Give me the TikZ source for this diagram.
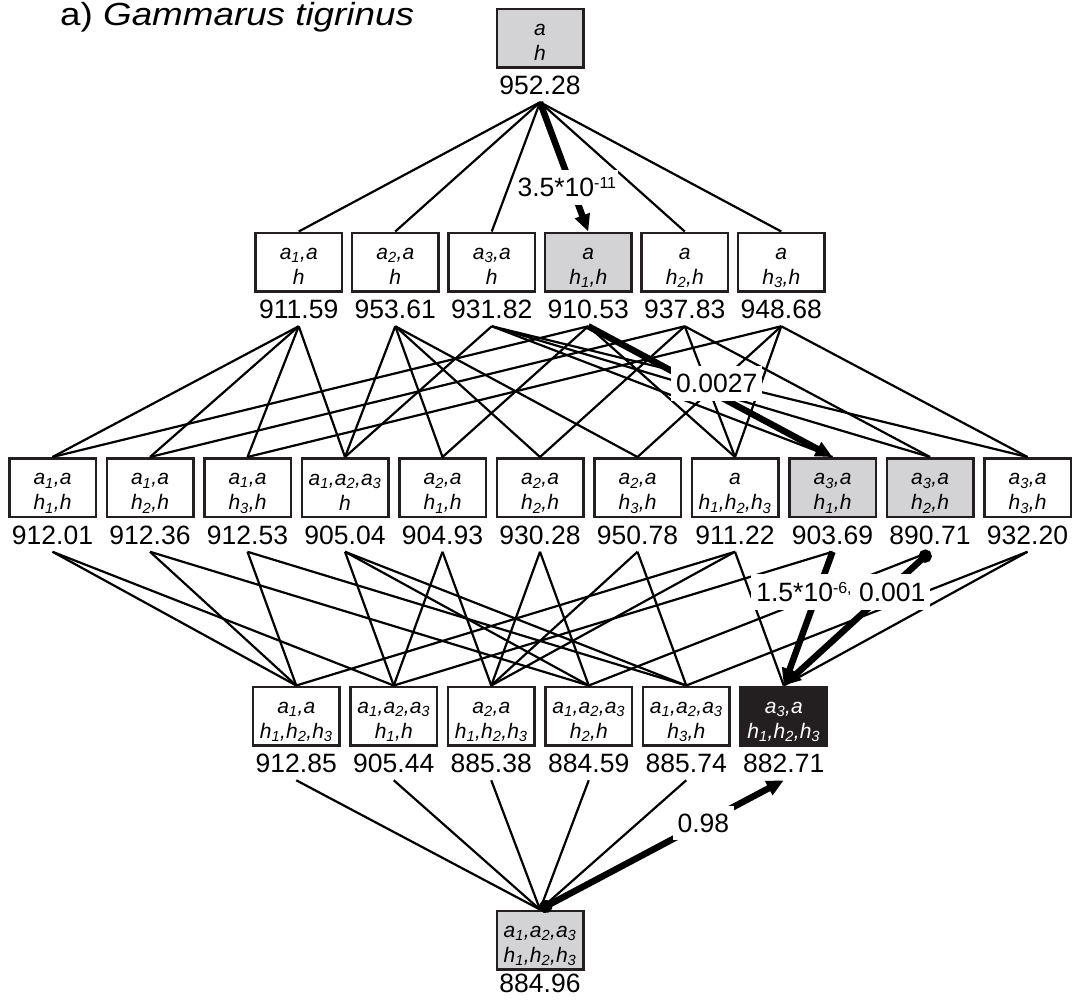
\documentclass[tikz,border=0pt]{standalone}
\usepackage{fontspec}
\setmainfont{Liberation Sans}
\newfontfamily\titlefont[FakeStretch=1.15]{Liberation Sans}
\usepackage{xcolor}
\usepackage{tikz}
\usetikzlibrary{positioning}
\usetikzlibrary{arrows.meta}
\definecolor{boxgray}{RGB}{211,211,213}
\definecolor{boxline}{RGB}{35,31,32}
\newcommand{\ix}[1]{\textsubscript{#1}}
\newcommand{\pw}[1]{\raisebox{8pt}{\fontsize{16}{16}\selectfont #1}}
\newcommand{\cell}[2]{\rule{0pt}{23pt}#1\\#2\rule[-3pt]{0pt}{3pt}}

\begin{document}
\begin{tikzpicture}[
		x=1pt, y=-1pt,
		ModelBox/.style={draw=boxline, line width=2.5pt, fill=white, minimum width=86.5pt, minimum height=58.5pt, inner sep=0pt, align=center, font=\fontsize{21}{25}\selectfont\itshape},
		GrayBox/.style={ModelBox, fill=boxgray},
		BestBox/.style={ModelBox, fill=boxline, text=white},
		Value/.style={inner xsep=0pt, inner ysep=7.5pt, outer sep=0pt, font=\fontsize{26.5}{26.5}\selectfont},
		Link/.style={draw=black, line width=2.2pt},
		Best/.style={draw=black, line width=6.5pt, -{Triangle[length=17pt, width=15pt]}},
		DotBest/.style={Best, {Circle[length=13pt]}-{Triangle[length=17pt, width=15pt]}},
		PLabel/.style={fill=white, inner xsep=5pt, inner ysep=8pt, font=\fontsize{26.5}{26.5}\selectfont}
		]
		
		\useasboundingbox (0,0) rectangle (1076,1005);
		
		% spacing of the boxes in each row
		\pgfmathparse{96.5}		\let\GapA\pgfmathresult
		\pgfmathparse{97.5}		\let\GapB\pgfmathresult
		
		\node[anchor=base west, inner sep=0pt] (title) at (60,25) {\titlefont\fontsize{32}{32}\selectfont a) \itshape Gammarus tigrinus};
		
		% top model
		\node[GrayBox] (m0) at (540,38) {\cell{a}{h}};
		\node[Value, below=0pt of m0] (v0) {952.28};
		
		% one split
		\foreach \sty/\ta/\tb/\val [count=\i] in {
			{ModelBox/{a\ix{1},a}/h/911.59},
			{ModelBox/{a\ix{2},a}/h/953.61},
			{ModelBox/{a\ix{3},a}/h/931.82},
			{GrayBox/a/{h\ix{1},h}/910.53},
			{ModelBox/a/{h\ix{2},h}/937.83},
			{ModelBox/a/{h\ix{3},h}/948.68}}
		{
			\node[\sty] (m1-\i) at ({540+(\i-3.5)*\GapA},262) {\cell{\ta}{\tb}};
			\node[Value, below=0pt of m1-\i] (v1-\i) {\val};
		}
		
		% two splits
		\foreach \sty/\ta/\tb/\val [count=\i] in {
			{ModelBox/{a\ix{1},a}/{h\ix{1},h}/912.01},
			{ModelBox/{a\ix{1},a}/{h\ix{2},h}/912.36},
			{ModelBox/{a\ix{1},a}/{h\ix{3},h}/912.53},
			{ModelBox/{a\ix{1},a\ix{2},a\ix{3}}/h/905.04},
			{ModelBox/{a\ix{2},a}/{h\ix{1},h}/904.93},
			{ModelBox/{a\ix{2},a}/{h\ix{2},h}/930.28},
			{ModelBox/{a\ix{2},a}/{h\ix{3},h}/950.78},
			{ModelBox/a/{h\ix{1},h\ix{2},h\ix{3}}/911.22},
			{GrayBox/{a\ix{3},a}/{h\ix{1},h}/903.69},
			{GrayBox/{a\ix{3},a}/{h\ix{2},h}/890.71},
			{ModelBox/{a\ix{3},a}/{h\ix{3},h}/932.20}}
		{
			\node[\sty] (m2-\i) at ({540+(\i-6)*\GapB},487.5) {\cell{\ta}{\tb}};
			\node[Value, below=0pt of m2-\i] (v2-\i) {\val};
		}
		
		% three splits
		\foreach \sty/\ta/\tb/\val [count=\i] in {
			{ModelBox/{a\ix{1},a}/{h\ix{1},h\ix{2},h\ix{3}}/912.85},
			{ModelBox/{a\ix{1},a\ix{2},a\ix{3}}/{h\ix{1},h}/905.44},
			{ModelBox/{a\ix{2},a}/{h\ix{1},h\ix{2},h\ix{3}}/885.38},
			{ModelBox/{a\ix{1},a\ix{2},a\ix{3}}/{h\ix{2},h}/884.59},
			{ModelBox/{a\ix{1},a\ix{2},a\ix{3}}/{h\ix{3},h}/885.74},
			{BestBox/{a\ix{3},a}/{h\ix{1},h\ix{2},h\ix{3}}/882.71}}
		{
			\node[\sty] (m3-\i) at ({540+(\i-3.5)*\GapB},716) {\cell{\ta}{\tb}};
			\node[Value, below=0pt of m3-\i] (v3-\i) {\val};
		}
		
		% full model
		\node[GrayBox] (m4) at (540,940) {\cell{a\ix{1},a\ix{2},a\ix{3}}{h\ix{1},h\ix{2},h\ix{3}}};
		\node[Value, below=-4pt of m4] (v4) {884.96};
		
		% thin links
		\foreach \j in {1,2,3,5,6}
		\draw[Link] (v0.south) -- (m1-\j.north);
		
		\foreach \i/\j in {1/1,1/2,1/3,1/4, 2/4,2/5,2/6,2/7, 3/4,3/9,3/10,3/11,
			4/1,4/5,4/8, 5/2,5/6,5/8,5/10, 6/3,6/7,6/8,6/11}
		\draw[Link] (v1-\i.south) -- (m2-\j.north);
		
		\foreach \i/\j in {1/1,2/1,3/1,8/1, 1/2,4/2,5/2,9/2, 5/3,6/3,7/3,8/3,
			2/4,4/4,6/4,10/4, 3/5,4/5,7/5,11/5, 8/6,11/6}
		\draw[Link] (v2-\i.south) -- (m3-\j.north);
		
		\foreach \i in {1,...,5}
		\draw[Link] (v3-\i.south) -- (m4.north);
		
		% selected steps
		\draw[Best] (v0.south) -- node[PLabel, pos=0.66, xshift=-5pt, inner xsep=2pt] (p1) {3.5*10\pw{-11}} (m1-4.north);
		
		\draw[Best] (v1-4.south) -- node[PLabel, pos=0.44, xshift=21pt] (p2) {0.0027} (m2-9.north);
		
		\draw[DotBest] (v2-10.south) -- (m3-6.north);
		
		\draw[Best] (v2-9.south) -- node[PLabel, pos=0.3, xshift=23pt] (p3) {1.5*10\pw{-6,} 0.001} (m3-6.north);
		
		\draw[DotBest] (m4.north) -- node[PLabel, pos=0.67] (p4) {0.98} (v3-6.south);
		
\end{tikzpicture}
\end{document}
